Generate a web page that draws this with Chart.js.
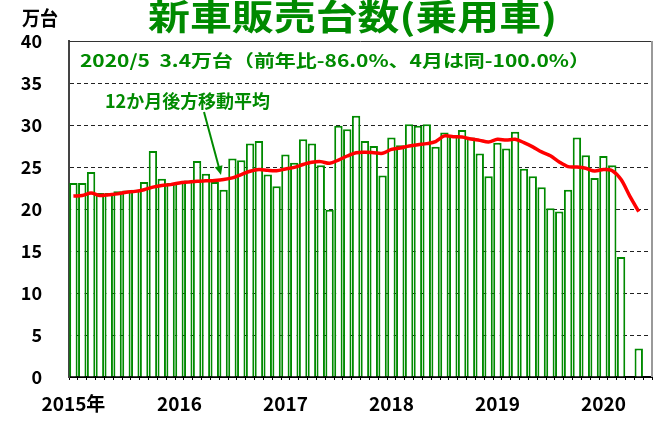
<!DOCTYPE html>
<html>
<head>
<meta charset="utf-8">
<script src="https://cdn.jsdelivr.net/npm/chart.js@4/dist/chart.umd.min.js"></script>
<style>
  html, body { margin: 0; padding: 0; background: #fff; }
  #wrap { width: 664px; height: 423px; }
</style>
</head>
<body>
<div id="wrap"><canvas id="myChart" width="664" height="423"></canvas></div>
<script>
// monthly, Jan 2015 .. Jun 2020 (万台)
const years = [2015, 2016, 2017, 2018, 2019, 2020];
const tickLabels = ['2015年', '2016', '2017', '2018', '2019', '2020'];
const sales = [
  23.1, 23.1, 24.4, 21.9, 21.9, 22.1, 22.2, 22.3, 23.2, 26.9, 23.6, 23.1,
  23.2, 23.4, 25.7, 24.2, 23.2, 22.3, 26.0, 25.8, 27.8, 28.1, 24.1, 22.7,
  26.5, 25.5, 28.3, 27.8, 25.2, 19.9, 29.9, 29.5, 31.1, 28.1, 27.5, 24.0,
  28.5, 27.6, 30.1, 29.9, 30.1, 27.4, 29.1, 28.7, 29.4, 28.5, 26.6, 23.9,
  27.9, 27.2, 29.2, 24.8, 23.9, 22.6, 20.1, 19.7, 22.3, 28.5, 26.4, 23.7,
  26.3, 25.2, 14.3, 0, 3.4, null
];
const movingAvg = [
  21.55, 21.6, 21.9, 21.6, 21.7, 21.8, 22.0, 22.1, 22.3, 22.6, 22.8, 22.9,
  23.1, 23.2, 23.3, 23.35, 23.4, 23.5, 23.7, 24.1, 24.5, 24.7, 24.6, 24.56,
  24.76, 24.96, 25.3, 25.56, 25.64, 25.44, 25.83, 26.31, 26.7, 26.75, 26.7, 26.63,
  27.1, 27.26, 27.5, 27.66, 27.78, 28.02, 28.7, 28.6, 28.56, 28.33, 28.17, 27.98,
  28.3, 28.2, 28.3, 27.9, 27.4, 26.8, 26.35, 25.6, 25.04, 25.0, 24.85, 24.52,
  24.7, 24.56, 23.5, 21.5, 19.7, null
];

const categories = [];
years.forEach(function (y) {
  for (let m = 1; m <= 12; m++) {
    if (y === 2020 && m > 6) break;
    categories.push(y + '/' + m);
  }
});

const GREEN = '#008a00';
const FONT = "'Noto Sans CJK JP', 'Noto Sans', sans-serif";

function fitText(ctx, text, x0, x1, y, font, color) {
  ctx.save();
  ctx.font = font;
  ctx.fillStyle = color;
  ctx.textBaseline = 'middle';
  ctx.textAlign = 'left';
  const w = ctx.measureText(text).width;
  ctx.translate(x0, y);
  ctx.scale((x1 - x0) / w, 1);
  ctx.fillText(text, 0, 0);
  ctx.restore();
}

const decorations = {
  id: 'decorations',
  afterDraw(chart) {
    const ctx = chart.ctx;
    const a = chart.chartArea;
    // frame
    ctx.save();
    ctx.strokeStyle = '#333';
    ctx.lineWidth = 1;
    ctx.beginPath();
    ctx.moveTo(a.left, a.top + 0.5);
    ctx.lineTo(a.right, a.top + 0.5);
    ctx.stroke();
    ctx.strokeStyle = '#999';
    ctx.lineWidth = 2;
    ctx.beginPath();
    ctx.moveTo(a.right, a.top);
    ctx.lineTo(a.right, a.bottom);
    ctx.stroke();
    ctx.restore();

    fitText(ctx, '新車販売台数(乗用車)', 148, 557, 17, 'bold 35px ' + FONT, GREEN);
    fitText(ctx, '万台', 22, 58, 18, 'bold 20px ' + FONT, '#000');
    fitText(ctx, '2020/5  3.4万台（前年比-86.0%、4月は同-100.0%）', 80, 590, 61, 'bold 17px ' + FONT, GREEN);
    fitText(ctx, '12か月後方移動平均', 105, 270, 101, 'bold 18px ' + FONT, GREEN);

    // arrow
    const x0 = 204, y0 = 112, x1 = 221, y1 = 175;
    const ang = Math.atan2(y1 - y0, x1 - x0);
    ctx.save();
    ctx.strokeStyle = GREEN;
    ctx.fillStyle = GREEN;
    ctx.lineWidth = 2;
    ctx.beginPath();
    ctx.moveTo(x0, y0);
    ctx.lineTo(x1 - 6 * Math.cos(ang), y1 - 6 * Math.sin(ang));
    ctx.stroke();
    ctx.beginPath();
    ctx.moveTo(x1, y1);
    ctx.lineTo(x1 - 9 * Math.cos(ang) + 4 * Math.sin(ang), y1 - 9 * Math.sin(ang) - 4 * Math.cos(ang));
    ctx.lineTo(x1 - 9 * Math.cos(ang) - 4 * Math.sin(ang), y1 - 9 * Math.sin(ang) + 4 * Math.cos(ang));
    ctx.closePath();
    ctx.fill();
    ctx.restore();
  }
};

const ctx = document.getElementById('myChart').getContext('2d');
const myChart = new Chart(ctx, {
  type: 'bar',
  data: {
    labels: categories,
    datasets: [{
      type: 'line',
      label: '12か月後方移動平均',
      data: movingAvg,
      borderColor: '#ff0000',
      borderWidth: 3.5,
      pointRadius: 0,
      tension: 0.3,
      fill: false,
      order: 0
    }, {
      label: '新車販売台数',
      data: sales,
      backgroundColor: '#ffffff',
      borderColor: GREEN,
      borderWidth: 2,
      barPercentage: 0.95,
      categoryPercentage: 1,
      order: 1
    }]
  },
  options: {
    responsive: false,
    animation: false,
    layout: { padding: { left: 0, right: 12, top: 41, bottom: 0 } },
    plugins: {
      legend: { display: false },
      title: { display: false },
      tooltip: { enabled: false }
    },
    scales: {
      x: {
        afterFit(scale) { scale.height = 46; },
        grid: { drawOnChartArea: false, drawTicks: true, tickLength: 3, color: '#000', offset: true },
        border: { color: '#000', width: 2 },
        ticks: {
          autoSkip: false,
          maxRotation: 0,
          padding: 12,
          color: '#000',
          font: { family: FONT, size: 19, weight: 'bold' },
          callback: function (val, i) {
            const parts = categories[i].split('/');
            if (parts[1] !== '1') return '';
            return tickLabels[years.indexOf(Number(parts[0]))];
          }
        }
      },
      y: {
        min: 0,
        max: 40,
        afterFit(scale) { scale.width = 69; },
        grid: {
          drawTicks: false,
          lineWidth: 1,
          color: function (c) {
            return (c.tick && (c.tick.value === 0 || c.tick.value === 40)) ? 'rgba(0,0,0,0)' : '#222';
          }
        },
        border: { color: '#444', width: 2, dash: [4, 3] },
        ticks: {
          stepSize: 5,
          padding: 27,
          color: '#000',
          font: { family: FONT, size: 18, weight: 'bold' }
        }
      }
    }
  },
  plugins: [decorations]
});
</script>
</body>
</html>
